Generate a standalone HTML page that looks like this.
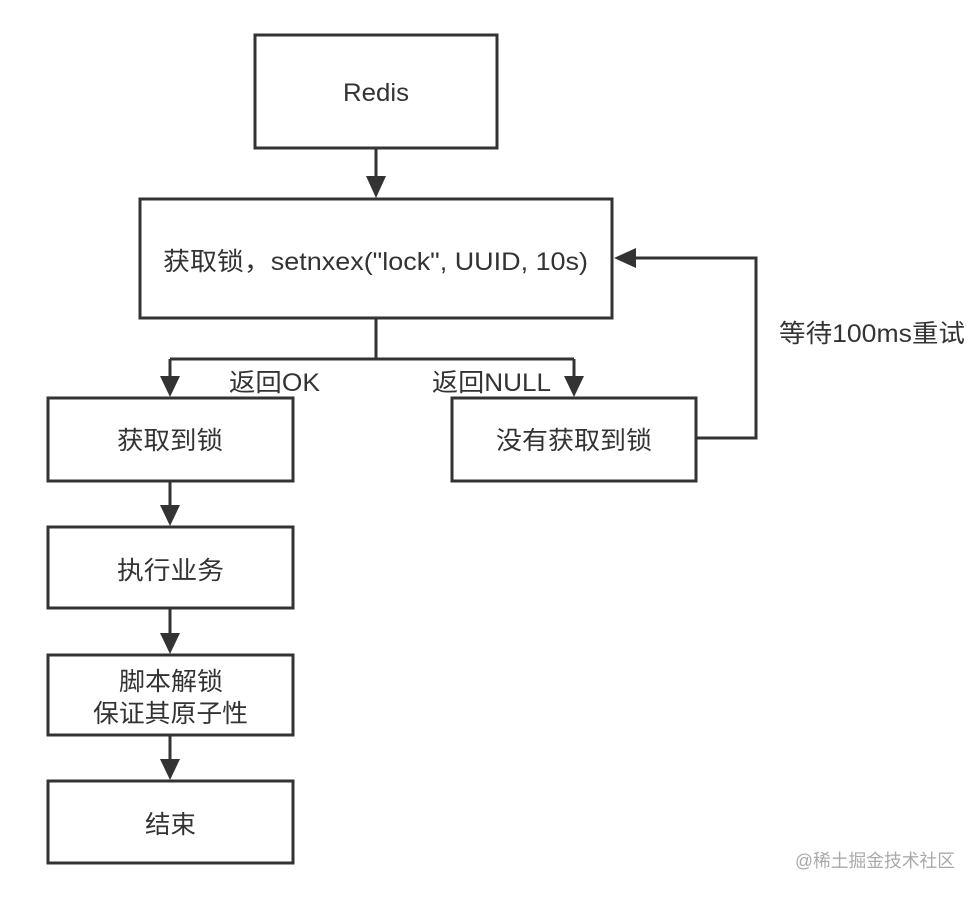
<!DOCTYPE html>
<html><head><meta charset="utf-8"><style>
body{margin:0;background:#fff;}
svg text{font-family:"Liberation Sans","Noto Sans CJK SC",sans-serif;fill:#333;}
</style></head><body>
<svg width="979" height="896" viewBox="0 0 979 896" xmlns="http://www.w3.org/2000/svg">
<g fill="#fff" stroke="#333" stroke-width="3">
<rect x="255" y="35" width="242" height="113"/>
<rect x="140" y="199" width="472" height="119"/>
<rect x="48" y="398" width="245" height="83"/>
<rect x="452" y="398" width="244" height="83"/>
<rect x="48" y="527" width="245" height="81"/>
<rect x="48" y="655" width="245" height="80"/>
<rect x="48" y="781" width="245" height="82"/>
</g>
<g fill="none" stroke="#333" stroke-width="3">
<path d="M376 148 V178"/>
<path d="M376 318 V359 M170 359 H574 M170 359 V378 M574 359 V378"/>
<path d="M170 481 V507 M170 608 V635 M170 735 V761"/>
<path d="M696 438 H756 V258 H634"/>
</g>
<g fill="#333">
<path d="M366 176 L386 176 L376 198 Z"/>
<path d="M160 376 L180 376 L170 397 Z"/>
<path d="M564 376 L584 376 L574 397 Z"/>
<path d="M160 505 L180 505 L170 526 Z"/>
<path d="M160 633 L180 633 L170 654 Z"/>
<path d="M160 759 L180 759 L170 780 Z"/>
<path d="M636 248 L636 268 L614 258 Z"/>
</g>
<g font-size="25">
<text x="343" y="101" textLength="66" lengthAdjust="spacingAndGlyphs">Redis</text>
<text x="163" y="270" textLength="425" lengthAdjust="spacingAndGlyphs">获取锁，setnxex("lock", UUID, 10s)</text>
<text x="117" y="449" textLength="106" lengthAdjust="spacingAndGlyphs">获取到锁</text>
<text x="496" y="449" textLength="156" lengthAdjust="spacingAndGlyphs">没有获取到锁</text>
<text x="117" y="579" textLength="107" lengthAdjust="spacingAndGlyphs">执行业务</text>
<text x="119" y="690" textLength="104" lengthAdjust="spacingAndGlyphs">脚本解锁</text>
<text x="93" y="722" textLength="155" lengthAdjust="spacingAndGlyphs">保证其原子性</text>
<text x="145" y="833" textLength="51" lengthAdjust="spacingAndGlyphs">结束</text>
<text x="229" y="391" textLength="91" lengthAdjust="spacingAndGlyphs">返回OK</text>
<text x="432" y="391" textLength="119" lengthAdjust="spacingAndGlyphs">返回NULL</text>
<text x="779" y="342" textLength="186" lengthAdjust="spacingAndGlyphs">等待100ms重试</text>
</g>
<text x="795" y="867" font-size="18" textLength="160" lengthAdjust="spacingAndGlyphs" style="fill:#aaa">@稀土掘金技术社区</text>
</svg>
</body></html>
